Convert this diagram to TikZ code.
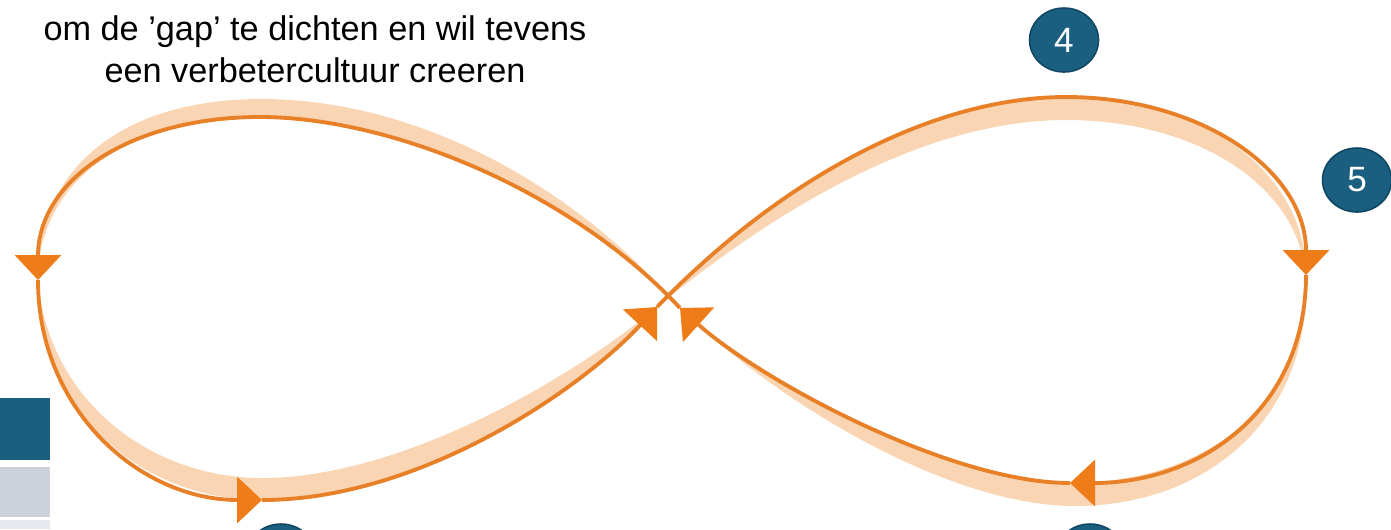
\documentclass[tikz,border=0pt]{standalone}
\usepackage{fontspec}
\setmainfont{Liberation Sans}
\usepackage{tikz}
\usetikzlibrary{arrows.meta,shapes.geometric}
\definecolor{loopline}{RGB}{232,128,40}
\definecolor{looptip}{RGB}{238,124,24}
\definecolor{loopband}{RGB}{249,213,180}
\definecolor{stepblue}{RGB}{26,95,128}
\definecolor{stepedge}{RGB}{17,70,98}
\definecolor{slidegray}{RGB}{205,210,218}
\definecolor{slidelight}{RGB}{230,233,238}

\begin{document}
\begin{tikzpicture}[
  x=0.02cm, y=-0.02cm,
  every node/.style={font=\fontsize{19.5}{23.8}\selectfont},
  loopseg/.style={
    draw=loopline,
    line width=2.2pt
  },
  looparrow/.style={
    loopseg,
    -{Triangle[width=0.92cm,length=0.5cm,color=looptip]}
  },
  band/.style={fill=loopband, draw=none},
  stepdot/.style={
    ellipse,
    draw=stepedge,
    line width=0.9pt,
    fill=stepblue,
    minimum width=1.38cm,
    minimum height=1.28cm,
    inner sep=0pt,
    text=white,
    font=\fontsize{20}{24}\selectfont
  },
  caption/.style={align=center, text=black, inner sep=0pt}
]
\useasboundingbox (0,0) rectangle (1391,529);

\coordinate (tipL) at (657,307);
\coordinate (tipR) at (680,308);
\coordinate (topL) at (260,117);
\coordinate (leftL) at (38,280);
\coordinate (botL) at (262,500);
\coordinate (top4) at (1066,97);
\coordinate (rightR) at (1306,275);
\coordinate (botR) at (1070,483);

\fill[band] (tipR) .. controls (570,190) and (390,117) .. (topL)
  .. controls (130,117) and (38,180) .. (leftL)
  .. controls (36,170) and (120,99) .. (262,99)
  .. controls (400,99) and (560,170) .. (tipR) -- cycle;
\fill[band] (leftL) .. controls (38,410) and (140,500) .. (botL)
  .. controls (420,500) and (580,390) .. (tipL)
  .. controls (570,380) and (400,478) .. (262,478)
  .. controls (150,478) and (48,400) .. (leftL) -- cycle;
\fill[band] (tipL) .. controls (790,170) and (940,97) .. (top4)
  .. controls (1200,97) and (1306,170) .. (rightR)
  .. controls (1296,180) and (1190,120) .. (1066,120)
  .. controls (940,120) and (800,190) .. (tipL) -- cycle;
\fill[band] (rightR) .. controls (1306,410) and (1200,483) .. (botR)
  .. controls (950,483) and (760,380) .. (tipR)
  .. controls (780,405) and (950,506) .. (1075,506)
  .. controls (1205,506) and (1312,420) .. (rightR) -- cycle;

\draw[loopseg] (tipR) .. controls (570,190) and (390,117) .. (topL);
\draw[looparrow] (topL) .. controls (130,117) and (38,180) .. (leftL);
\draw[looparrow] (leftL) .. controls (38,410) and (140,500) .. (botL);
\draw[looparrow] (botL) .. controls (420,500) and (580,390) .. (tipL);
\draw[loopseg] (tipL) .. controls (790,170) and (940,97) .. (top4);
\draw[looparrow] (top4) .. controls (1200,97) and (1306,170) .. (rightR);
\draw[looparrow] (rightR) .. controls (1306,410) and (1200,483) .. (botR);
\draw[looparrow] (botR) .. controls (950,483) and (760,380) .. (tipR);

\node[stepdot] (step4) at (1064,40) {4};
\node[stepdot] (step5) at (1357,180) {5};
\node[stepdot] (stepbl) at (281,556) {};
\node[stepdot] (stepbr) at (1090,556) {};

\node[caption, anchor=base] (gaptext) at (315,82)
  {om de ’gap’ te dichten en wil tevens\\een verbetercultuur creeren};

\fill[stepblue] (0,398) rectangle (50,460);
\fill[slidegray] (0,467) rectangle (50,517);
\fill[slidelight] (0,520) rectangle (50,529);
\end{tikzpicture}
\end{document}
